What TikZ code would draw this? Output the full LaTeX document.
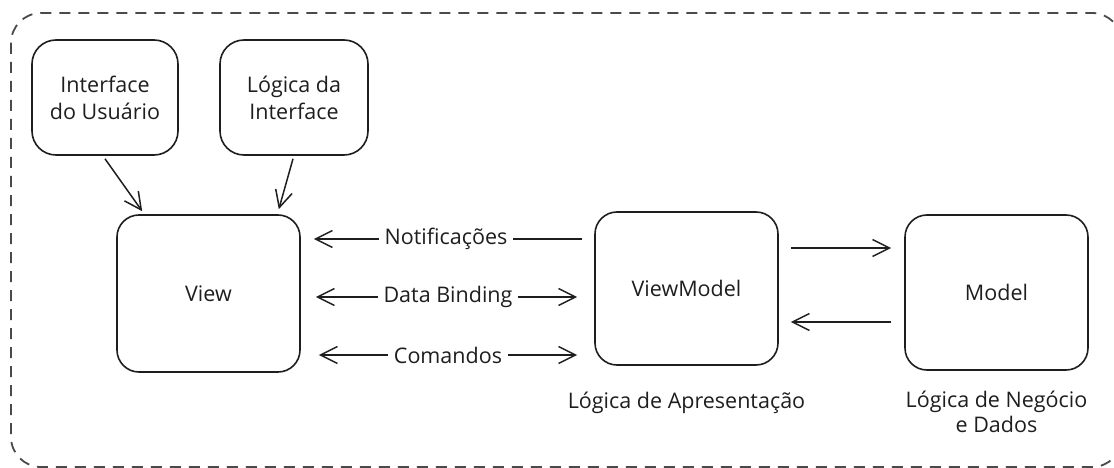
\documentclass[tikz,border=0pt]{standalone}
\usepackage{fontspec}
\setmainfont{Open Sans}
\usetikzlibrary{arrows.meta,calc}
\definecolor{ink}{HTML}{1E1E1E}
\definecolor{frame}{HTML}{4A4A4A}
\begin{document}
\begin{tikzpicture}[x=1pt,y=-1pt,
  txt/.style={font=\fontsize{21.5}{27}\selectfont,text=ink,align=center},
  box/.style={txt,draw=ink,line width=1.6pt,rounded corners=22pt,inner sep=0pt},
  bigbox/.style={box,minimum width=183pt},
  smallbox/.style={box,minimum height=115pt,rounded corners=24pt},
  arr/.style={draw=ink,line width=1.5pt,-{Straight Barb[length=17pt,width=17pt,line width=1.5pt]}},
  biarr/.style={arr,{Straight Barb[length=17pt,width=17pt,line width=1.5pt]}-{Straight Barb[length=17pt,width=17pt,line width=1.5pt]}},
  lbl/.style={txt,fill=white,inner xsep=6pt,inner ysep=2pt},
  groupframe/.style={draw=frame,line width=1.8pt,dash pattern=on 11pt off 8pt,rounded corners=30pt}
]
\useasboundingbox (0,0) rectangle (1114,468);

% dashed grouping frame, running off the right and bottom edges
\begin{scope}
  \clip (0,0) rectangle (1114,468);
  \draw[groupframe] (11,13) rectangle (1122,467);
\end{scope}

% components
\node[smallbox,minimum width=146pt] (ui) at (105,97.5) {Interface\\do Usuário};
\node[smallbox,minimum width=148pt] (uilogic) at (294,97.5) {Lógica da\\Interface};
\node[bigbox,minimum height=157pt] (view) at (208.5,293.5) {View};
\node[bigbox,minimum height=153pt] (vm) at (686.5,288.5) {ViewModel};
\node[bigbox,minimum height=155pt] (model) at (996.5,292.5) {Model};

% captions under the layers
\node[txt] (vmcap) at ($(vm.south)+(0,37)$) {Lógica de Apresentação};
\node[txt,font=\fontsize{21.5}{25}\selectfont] (modelcap) at ($(model.south)+(0,41)$) {Lógica de Negócio\\e Dados};

% inputs of the View
\draw[arr] ($(ui.south)+(0,3)$) -- ($(view.north west)+(26,-3)$);
\draw[arr] ($(uilogic.south)+(-1,3)$) -- ($(view.north east)+(-22,-5)$);

% View <-> ViewModel
\coordinate (r1) at (0,239);
\coordinate (r2) at (0,297);
\coordinate (r3) at (0,355);
\draw[arr] ($(vm.west |- r1)+(-12,0)$) -- ($(view.east |- r1)+(13,0)$);
\draw[biarr] ($(view.east |- r2)+(15,0)$) -- ($(vm.west |- r2)+(-17,0)$);
\draw[biarr] ($(view.east |- r3)+(18,0)$) -- ($(vm.west |- r3)+(-17,0)$);
\node[lbl] (n1) at (446,239) {Notificações};
\node[lbl] (n2) at (448,297) {Data Binding};
\node[lbl] (n3) at (448,355) {Comandos};

% ViewModel <-> Model
\coordinate (m1) at (0,248);
\coordinate (m2) at (0,322);
\draw[arr] ($(vm.east |- m1)+(12,0)$) -- ($(model.west |- m1)+(-13,0)$);
\draw[arr] ($(model.west |- m2)+(-13,0)$) -- ($(vm.east |- m2)+(12,0)$);
\end{tikzpicture}
\end{document}
